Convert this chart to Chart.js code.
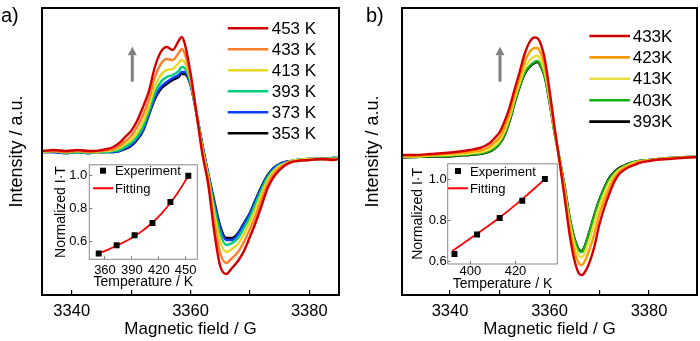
<!DOCTYPE html>
<html>
<head>
<meta charset="utf-8">
<script src="https://cdn.jsdelivr.net/npm/chart.js@4.4.1/dist/chart.umd.min.js"></script>
<style>
    html, body { margin: 0; padding: 0; background: #fff; }
    #fig { position: relative; width: 700px; height: 341px; overflow: hidden; font-family: "Liberation Sans", Arial, sans-serif; }
    #fig canvas { position: absolute; }
    .tag { position: absolute; font-size: 20px; line-height: 20px; color: #000; }
</style>
</head>
<body>
<div id="fig">
    <canvas id="mainA" width="350" height="341" style="left:0;top:0"></canvas>
    <canvas id="mainB" width="350" height="341" style="left:350px;top:0"></canvas>
    <canvas id="insetA" width="156" height="146" style="left:48px;top:152px"></canvas>
    <canvas id="insetB" width="160" height="146" style="left:405px;top:152px"></canvas>
    <div class="tag" style="left:1px;top:5px">a)</div>
    <div class="tag" style="left:366px;top:5px">b)</div>
</div>
<script>
// ── Data: panel a spectra (field in G, intensity in a.u.) ───
const fieldA = [3335, 3337, 3339, 3341, 3343, 3344, 3345, 3346, 3347, 3348, 3349, 3350, 3351, 3352, 3353,
    3354, 3355, 3356, 3357, 3358, 3358.5, 3359, 3360, 3361, 3362, 3363, 3364, 3365, 3366, 3367, 3368, 3369,
    3370, 3371, 3372, 3373, 3374, 3375, 3376, 3377, 3378, 3380, 3382, 3384, 3385];
const a453 = [0, 1, 0, 1, 0, 0, 1, 2, 4, 8, 14, 20, 30, 44, 60, 84, 99, 104, 101, 110, 114, 108, 78, 38, -3,
    -34, -81, -115, -123, -117, -110, -100, -86, -71, -54, -37, -26, -19, -14, -11, -10, -9, -8, -9, -8];
const a433 = [0, 0, -1, 0, -1, 0, 0, 1, 2, 5, 10, 15, 24, 36, 52, 74, 87, 92, 91, 98, 102, 98, 74, 38, 0,
    -30, -71, -102, -112, -107, -101, -91, -78, -64, -48, -33, -23, -17, -13, -11, -10, -9, -8, -8, -8];
const a413 = [-1, 0, -1, 0, -1, -1, 0, 0, 1, 3, 7, 11, 18, 29, 45, 64, 76, 81, 82, 88, 91, 89, 71, 38, 3,
    -27, -62, -90, -101, -98, -93, -83, -71, -57, -42, -29, -20, -15, -12, -10, -9, -8, -8, -8, -7];
const a393 = [-1, 0, -2, -1, -2, -1, -1, -1, 0, 1, 4, 8, 14, 24, 40, 58, 69, 74, 76, 80, 84, 83, 68, 38, 4,
    -25, -56, -82, -94, -92, -87, -77, -66, -52, -38, -26, -19, -14, -12, -10, -9, -8, -8, -7, -7];
const a373 = [-1, -1, -2, -1, -2, -1, -1, -1, -1, 0, 3, 6, 12, 21, 37, 54, 64, 69, 73, 76, 79, 79, 67, 38, 6,
    -24, -52, -77, -89, -89, -83, -73, -63, -49, -36, -25, -17, -13, -11, -10, -9, -8, -8, -7, -7];
const a353 = [-1, -1, -2, -1, -2, -1, -1, -1, -1, 0, 2, 5, 11, 20, 36, 52, 62, 67, 71, 74, 77, 77, 66, 38, 6,
    -23, -50, -75, -87, -87, -82, -72, -62, -48, -35, -24, -17, -13, -11, -10, -9, -8, -8, -7, -7];

// ── Data: panel b spectra ───────────────────────────────────
const fieldB = [3330.5, 3333, 3336, 3339, 3342, 3344, 3345, 3346, 3347, 3348, 3349, 3350, 3351, 3352, 3353,
    3354, 3355, 3356, 3357, 3357.5, 3358, 3359, 3360, 3361, 3362, 3363, 3364, 3365, 3366, 3366.5, 3367, 3368,
    3369, 3370, 3371, 3372, 3373, 3374, 3375, 3376, 3377, 3378, 3380, 3382, 3384, 3386, 3388, 3389.6];
const b433 = [1, 1, 2, 3, 4.5, 6, 7, 8, 10, 13, 18, 24, 35, 49, 67, 84, 102, 114, 118.5, 118, 115, 98, 66, 29,
    -5, -40, -77, -104, -118, -119, -117, -107, -91, -69, -52, -38, -26, -18, -14, -11, -9, -7, -5, -3.5, -3, -2, -1.5, -1];
const b423 = [0, 0, 1, 2, 3, 4, 5, 5.5, 7, 9.5, 14, 19, 29, 43, 61, 78, 94, 104, 108, 108, 105.5, 91, 61, 27,
    -4, -36, -70, -95, -108, -109, -106, -94, -78, -59, -44, -32, -22, -16, -12, -10, -8, -6, -4.5, -3, -2.5, -2, -1.5, -1];
const b413 = [-0.5, -0.5, 0.5, 0.7, 1.8, 2.5, 3.2, 3.8, 5, 6.8, 10.3, 15.5, 25, 39, 57, 73, 87.4, 95.5, 99.6, 100.3,
    98, 85, 57.5, 25, -3.5, -32.3, -64.7, -87.8, -100.3, -101.3, -97.8, -84, -67, -50.5, -37.4, -26.5, -19, -14, -11,
    -8.7, -6.7, -5.5, -4.2, -3.1, -2.2, -1.6, -1.1, -1];
const b403 = [-1, -1, 0, 0, 1, 1.5, 2, 2.5, 3.5, 5, 8, 13, 22, 36, 54, 70, 83, 90, 94, 95, 93, 81, 55, 24,
    -3, -30, -61, -83, -95, -96, -92, -77, -60, -45, -33, -23, -17, -13, -10, -8, -6, -5, -4, -3, -2, -1.5, -1, -1];
const b393 = [-1.5, -1, -0.5, -0.5, 0.5, 1, 1.5, 2, 3, 4.5, 7.5, 12.5, 21, 35, 53, 69, 82, 89, 93, 94, 92, 80, 54, 24,
    -2, -29, -60, -82, -94, -95, -91, -76, -59, -44, -32, -22, -16, -12, -9.5, -7.5, -6, -5, -4, -3, -2, -1.5, -1, -1];

// Field ticks (labels only every 20 G)
const fieldTicks = [3340, 3350, 3360, 3370, 3380];

// ── Data: insets (normalized I·T vs temperature) ────────────
const tempsA = [353, 373, 393, 413, 433, 453];
const normA = [0.525, 0.575, 0.636, 0.711, 0.84, 1.0];
const fitTempsA = [353, 363, 373, 383, 393, 403, 413, 423, 433, 443, 453];
const fitA = [0.525, 0.547, 0.572, 0.599, 0.630, 0.669, 0.714, 0.769, 0.833, 0.911, 1.0];
const tempTicksA = [360, 390, 420, 450];

const tempsB = [393, 403, 413, 423, 433];
const normB = [0.637, 0.732, 0.812, 0.895, 1.0];
const fitTempsB = [392, 403, 413, 423, 433];
const fitB = [0.652, 0.735, 0.814, 0.903, 1.0];
const tempTicksB = [400, 420];

const normTicks = [0.6, 0.8, 1.0];

// ── Helpers / plugins ───────────────────────────────────────
const FONT = '"Liberation Sans", Arial, sans-serif';
const toPts = (xs, ys) => xs.map((x, i) => ({ x, y: ys[i] }));
const fixTicks = values => s => { s.ticks = values.map(value => ({ value })); };

const framePlugin = {
    id: "frame",
    beforeDraw(chart, args, o) {
        if (!o.fill) return;
        const { ctx, chartArea: a } = chart;
        ctx.save();
        ctx.fillStyle = o.fill;
        ctx.fillRect(a.left, a.top, a.width, a.height);
        ctx.restore();
    },
    afterDraw(chart, args, o) {
        const { ctx, chartArea: a } = chart;
        ctx.save();
        ctx.strokeStyle = o.color;
        ctx.lineWidth = o.width;
        ctx.strokeRect(a.left, a.top, a.width, a.height);
        ctx.restore();
    }
};

// Key drawn inside the plot, rows follow dataset order
const keyPlugin = {
    id: "key",
    afterDatasetsDraw(chart, args, o) {
        const { ctx } = chart;
        ctx.save();
        ctx.font = `${o.size}px ${FONT}`;
        ctx.textBaseline = "middle";
        chart.data.datasets.forEach((ds, i) => {
            const y = o.y + i * o.rowH;
            if (ds.showLine) {
                ctx.strokeStyle = ds.borderColor;
                ctx.lineWidth = o.lineWidth;
                ctx.beginPath();
                ctx.moveTo(o.x, y);
                ctx.lineTo(o.x + o.len, y);
                ctx.stroke();
            } else {
                ctx.fillStyle = ds.backgroundColor;
                ctx.fillRect(o.x + o.len / 2 - 3, y - 3, 6, 6);
            }
            ctx.fillStyle = "#000";
            ctx.fillText(ds.label, o.x + o.len + o.gap, y + 1);
        });
        ctx.restore();
    }
};

const arrowPlugin = {
    id: "arrow",
    afterDatasetsDraw(chart, args, o) {
        const { ctx, scales: { x, y } } = chart;
        const px = x.getPixelForValue(o.at);
        const y0 = y.getPixelForValue(o.from);
        const y1 = y.getPixelForValue(o.to);
        ctx.save();
        ctx.fillStyle = o.color;
        ctx.fillRect(px - 1.5, y1 + o.head, 3, y0 - y1 - o.head);
        ctx.beginPath();
        ctx.moveTo(px, y1);
        ctx.lineTo(px - o.half, y1 + o.head);
        ctx.lineTo(px + o.half, y1 + o.head);
        ctx.closePath();
        ctx.fill();
        ctx.restore();
    }
};

// ── Main spectra ────────────────────────────────────────────
const makeSpectrum = (id, field, series, cfg) => new Chart(document.getElementById(id), {
    type: "scatter",
    data: {
        datasets: series.map(s => ({
            label: s.label,
            data: toPts(field, s.data),
            borderColor: s.color,
            backgroundColor: s.color,
            showLine: true,
            borderWidth: 2.4,
            pointRadius: 0,
            cubicInterpolationMode: "monotone"
        }))
    },
    options: {
        responsive: false,
        animation: false,
        devicePixelRatio: 1,
        events: [],
        layout: { padding: { left: 0, top: 8, right: cfg.padRight, bottom: 0 } },
        plugins: {
            legend: { display: false },
            tooltip: { enabled: false },
            frame: { color: "#000", width: 2 },
            key: cfg.key,
            arrow: cfg.arrow
        },
        scales: {
            x: {
                type: "linear",
                min: cfg.xMin,
                max: cfg.xMax,
                border: { display: false },
                grid: { drawOnChartArea: false, tickLength: -5, color: "#000", lineWidth: 1.2 },
                ticks: {
                    autoSkip: false, maxRotation: 0,
                    padding: 11.8, color: "#000", font: { family: FONT, size: 16.5 },
                    callback: v => (v % 20 === 0 ? String(v) : "")
                },
                afterBuildTicks: fixTicks(fieldTicks),
                title: {
                    display: true, text: "Magnetic field / G", color: "#000",
                    font: { family: FONT, size: 17 }, padding: { top: 0, bottom: 1.5 }
                },
                afterFit: s => { s.height = 46; }
            },
            y: {
                min: cfg.yMin,
                max: cfg.yMax,
                border: { display: false },
                grid: { display: false },
                ticks: { display: false },
                title: {
                    display: true, text: "Intensity / a.u.", color: "#000",
                    font: { family: FONT, size: 18 }, padding: { top: cfg.yTitlePad, bottom: 0 }
                },
                afterFit: s => { s.width = cfg.yWidth; }
            }
        }
    },
    plugins: [framePlugin, keyPlugin, arrowPlugin]
});

makeSpectrum("mainA", fieldA, [
    { label: "453 K", data: a453, color: "#d10000" },
    { label: "433 K", data: a433, color: "#ff7f2a" },
    { label: "413 K", data: a413, color: "#e6d81e" },
    { label: "393 K", data: a393, color: "#00cc7a" },
    { label: "373 K", data: a373, color: "#0a3cff" },
    { label: "353 K", data: a353, color: "#000000" }
], {
    xMin: 3335, xMax: 3385, yMin: -144, yMax: 143,
    padRight: 11, yWidth: 42, yTitlePad: 6.2,
    key: { x: 227.7, y: 28.3, rowH: 21, len: 40.6, gap: 3.4, size: 17, lineWidth: 2.6 },
    arrow: { at: 3350.2, from: 69.3, to: 104.3, head: 8.5, half: 4.5, color: "#808080" }
});

makeSpectrum("mainB", fieldB, [
    { label: "433K", data: b433, color: "#d40000" },
    { label: "423K", data: b423, color: "#ff9a00" },
    { label: "413K", data: b413, color: "#e8e040" },
    { label: "403K", data: b403, color: "#14b414" },
    { label: "393K", data: b393, color: "#000000" }
], {
    xMin: 3330.35, xMax: 3389.65, yMin: -139, yMax: 148,
    padRight: 3, yWidth: 52, yTitlePad: 12.5,
    key: { x: 239.3, y: 36, rowH: 21.4, len: 40.7, gap: 2.7, size: 17, lineWidth: 2.6 },
    arrow: { at: 3350.05, from: 74.3, to: 109.3, head: 8.5, half: 4.5, color: "#808080" }
});

// ── Insets ──────────────────────────────────────────────────
const makeInset = (id, cfg) => new Chart(document.getElementById(id), {
    type: "scatter",
    data: {
        datasets: [
            {
                label: "Experiment", data: toPts(cfg.temps, cfg.norm), showLine: false,
                pointStyle: "rect", pointRadius: 4.2, backgroundColor: "#000", borderColor: "#000", borderWidth: 0
            },
            {
                label: "Fitting", data: toPts(cfg.fitTemps, cfg.fit), showLine: true,
                borderColor: "#ff0000", backgroundColor: "#ff0000", borderWidth: 1.8, pointRadius: 0, tension: 0.4
            }
        ]
    },
    options: {
        responsive: false,
        animation: false,
        devicePixelRatio: 1,
        events: [],
        layout: { padding: { left: 0, top: 7, right: cfg.padRight, bottom: 0 } },
        plugins: {
            legend: { display: false },
            tooltip: { enabled: false },
            frame: { color: "#888", width: 1, fill: "#fff" },
            key: cfg.key
        },
        scales: {
            x: {
                type: "linear",
                min: cfg.xMin,
                max: cfg.xMax,
                border: { display: false },
                grid: { drawOnChartArea: false, tickLength: -3, color: "#777" },
                ticks: {
                    autoSkip: false, maxRotation: 0,
                    padding: cfg.xTickPad, color: "#000", font: { family: FONT, size: 13 }
                },
                afterBuildTicks: fixTicks(cfg.xTicks),
                title: {
                    display: true, text: "Temperature / K", color: "#000",
                    font: { family: FONT, size: 14 }, padding: { top: 0, bottom: cfg.xTitlePad }
                },
                afterFit: s => { s.height = cfg.xHeight; }
            },
            y: {
                min: cfg.yMin,
                max: cfg.yMax,
                border: { display: false },
                grid: { drawOnChartArea: false, tickLength: -3, color: "#777" },
                ticks: {
                    padding: cfg.yTickPad, color: "#000",
                    font: { family: FONT, size: 13 }, callback: v => v.toFixed(1)
                },
                afterBuildTicks: fixTicks(normTicks),
                title: {
                    display: true, text: "Normalized I·T", color: "#000",
                    font: { family: FONT, size: 14 }, padding: { top: cfg.yTitlePad, bottom: 0 }
                },
                afterFit: s => { s.width = cfg.yWidth; }
            }
        }
    },
    plugins: [framePlugin, keyPlugin]
});

makeInset("insetA", {
    temps: tempsA, norm: normA, fitTemps: fitTempsA, fit: fitA, xTicks: tempTicksA,
    xMin: 342.5, xMax: 463, yMin: 0.489, yMax: 1.067,
    padRight: 6.7, xHeight: 38.7, yWidth: 41.3,
    xTickPad: 5.9, xTitlePad: 7.1, yTickPad: 5, yTitlePad: 4.6,
    key: { x: 45, y: 18.7, rowH: 17.6, len: 20, gap: 2, size: 13, lineWidth: 2 }
});

makeInset("insetB", {
    temps: tempsB, norm: normB, fitTemps: fitTempsB, fit: fitB, xTicks: tempTicksB,
    xMin: 390, xMax: 438.5, yMin: 0.589, yMax: 1.074,
    padRight: 7.7, xHeight: 34, yWidth: 42.7,
    xTickPad: 3, xTitlePad: 5.6, yTickPad: 4, yTitlePad: 4.9,
    key: { x: 43, y: 19, rowH: 17.3, len: 20, gap: 2, size: 13, lineWidth: 2 }
});
</script>
</body>
</html>
